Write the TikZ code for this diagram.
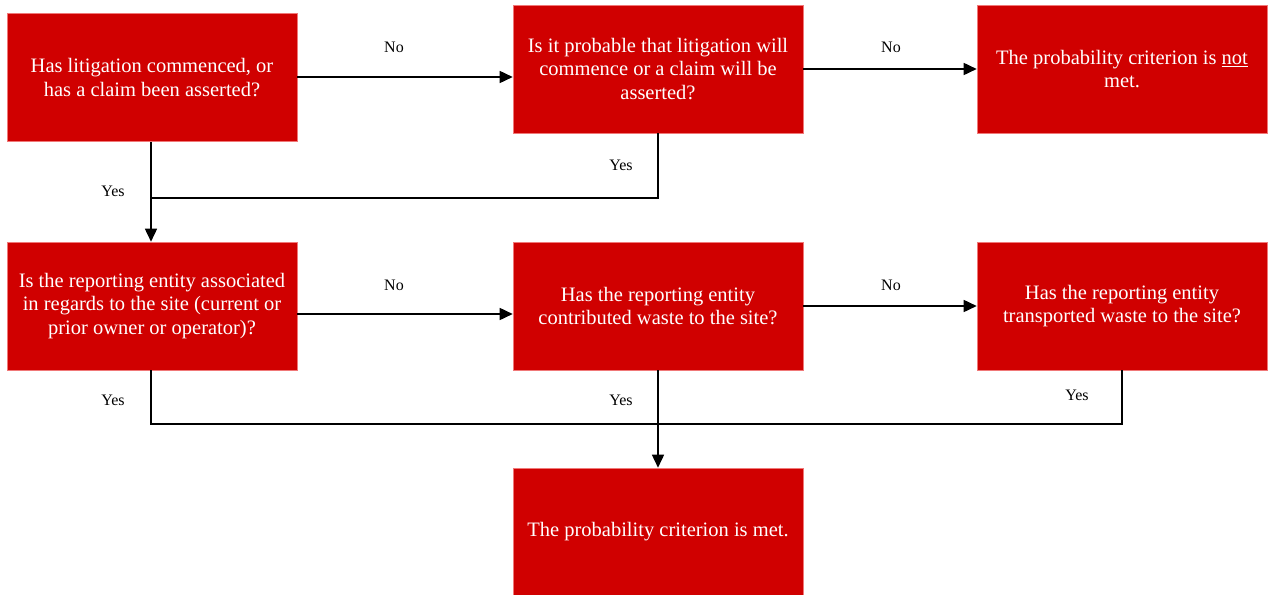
\documentclass[tikz,border=0pt]{standalone}
\usepackage{fontspec}
\setmainfont{Liberation Serif}
\usetikzlibrary{arrows.meta}
\definecolor{boxred}{RGB}{208,0,0}
\definecolor{boxedge}{RGB}{240,120,120}
\begin{document}
\begin{tikzpicture}[x=1pt,y=-1pt,
  box/.style={rectangle, fill=boxred, draw=boxedge, line width=0.6pt, minimum width=290pt, minimum height=128pt, text=white, align=center, font=\fontsize{20.5}{23.5}\selectfont, inner sep=0pt},
  conn/.style={draw=black, line width=1.6pt},
  arr/.style={conn, -{Triangle[length=13pt,width=12pt]}},
  lbl/.style={font=\fontsize{16}{18}\selectfont, text=black, inner sep=0pt}]
\useasboundingbox (0,0) rectangle (1273,594);
\node[box] (A) at (152,77.5) {Has litigation commenced, or\\has a claim been asserted?};
\node[box] (B) at (658,69) {Is it probable that litigation will\\commence or a claim will be\\asserted?};
\node[box] (C) at (1122,69) {The probability criterion is \underline{not}\\met.};
\node[box] (D) at (152,306) {Is the reporting entity associated\\in regards to the site (current or\\prior owner or operator)?};
\node[box] (E) at (658,306) {Has the reporting entity\\contributed waste to the site?};
\node[box] (F) at (1122,306) {Has the reporting entity\\transported waste to the site?};
\node[box] (G) at (658,532) {The probability criterion is met.};
% coordinates
\coordinate (jAB) at (151,198);
\coordinate (jD) at (151,424);
\coordinate (jF) at (1122,424);
\coordinate (jE) at (658,424);
% connectors
\draw[arr] (A.east |- 0,77) -- (B.west |- 0,77);
\draw[arr] (B.east) -- (C.west);
\draw[arr] (A.south -| jAB) -- (D.north -| jAB);
\draw[conn] (B.south) -- (B.south |- jAB) -- (jAB);
\draw[arr] (D.east |- 0,314) -- (E.west |- 0,314);
\draw[arr] (E.east) -- (F.west);
\draw[conn] (D.south -| jD) -- (jD) -- (jF) -- (F.south -| jF);
\draw[arr] (E.south) -- (G.north);
% labels
\node[lbl] (n1) at (394,47) {No};
\node[lbl] (n2) at (891,47) {No};
\node[lbl] (n3) at (394,285) {No};
\node[lbl] (n4) at (891,285) {No};
\node[lbl] (y1) at (113,191) {Yes};
\node[lbl] (y2) at (621,165) {Yes};
\node[lbl] (y3) at (113,400) {Yes};
\node[lbl] (y4) at (621,400) {Yes};
\node[lbl] (y5) at (1077,395) {Yes};
\end{tikzpicture}
\end{document}
